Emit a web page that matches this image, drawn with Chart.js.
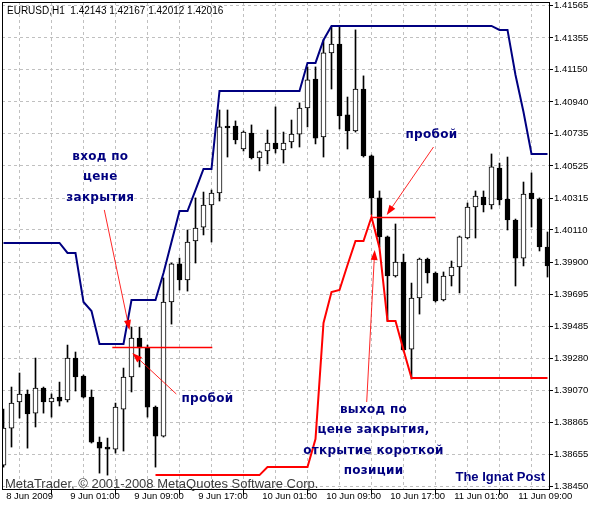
<!DOCTYPE html>
<html>
<head>
<meta charset="utf-8">
<script src="https://cdn.jsdelivr.net/npm/chart.js@4.4.0/dist/chart.umd.min.js"></script>
<style>
html, body { margin: 0; padding: 0; background: #fff; }
</style>
</head>
<body>
<canvas id="chart" width="589" height="506"></canvas>
<script>
// EURUSD H1, bars from 8 Jun 2009 17:00 to 11 Jun 2009 13:00
const opens = [1.38586, 1.38826, 1.38995, 1.39047, 1.38923, 1.39086, 1.38995, 1.39027, 1.39008, 1.39280,
  1.39163, 1.39027, 1.38735, 1.38703, 1.38690, 1.38949, 1.39157, 1.39410, 1.39345, 1.38962,
  1.38774, 1.39643, 1.39890, 1.39786, 1.40039, 1.40129, 1.40272, 1.40350, 1.40784, 1.40784,
  1.40635, 1.40739, 1.40577, 1.40622, 1.40674, 1.40629, 1.40681, 1.40732, 1.40901, 1.41089,
  1.40713, 1.41258, 1.41316, 1.40856, 1.40752, 1.41024, 1.40590, 1.40318, 1.40065, 1.39812,
  1.39902, 1.39338, 1.39669, 1.39922, 1.39831, 1.39656, 1.39812, 1.39870, 1.40058, 1.40259,
  1.40324, 1.40272, 1.40512, 1.40311, 1.40175, 1.39928, 1.40350, 1.40311, 1.40000];
const highs = [1.38949, 1.39092, 1.39183, 1.39073, 1.39280, 1.39092, 1.39047, 1.39124, 1.39364, 1.39319,
  1.39170, 1.39073, 1.38768, 1.38761, 1.38988, 1.39215, 1.39481, 1.39481, 1.39364, 1.38969,
  1.39799, 1.39896, 1.39928, 1.40110, 1.40318, 1.40356, 1.40369, 1.40888, 1.40888, 1.40817,
  1.40752, 1.40791, 1.40622, 1.40758, 1.40908, 1.40745, 1.40823, 1.40934, 1.41167, 1.41167,
  1.41342, 1.41426, 1.41426, 1.40972, 1.41407, 1.41109, 1.40596, 1.40363, 1.40071, 1.40149,
  1.39954, 1.39766, 1.39928, 1.39928, 1.39838, 1.39838, 1.39909, 1.40071, 1.40285, 1.40363,
  1.40363, 1.40603, 1.40544, 1.40583, 1.40181, 1.40421, 1.40480, 1.40318, 1.40097];
const lows = [1.38573, 1.38703, 1.38891, 1.38696, 1.38833, 1.38923, 1.38897, 1.38969, 1.38995, 1.39066,
  1.39021, 1.38729, 1.38534, 1.38521, 1.38664, 1.38677, 1.39060, 1.39222, 1.38897, 1.38573,
  1.38768, 1.39500, 1.39721, 1.39714, 1.39896, 1.40078, 1.40032, 1.40298, 1.40583, 1.40668,
  1.40622, 1.40570, 1.40493, 1.40538, 1.40609, 1.40544, 1.40642, 1.40648, 1.40778, 1.40668,
  1.40583, 1.41024, 1.40765, 1.40635, 1.40745, 1.40583, 1.40207, 1.40000, 1.39520, 1.39805,
  1.39325, 1.39144, 1.39565, 1.39766, 1.39643, 1.39650, 1.39747, 1.39702, 1.40052, 1.40058,
  1.40227, 1.40246, 1.40272, 1.40110, 1.39747, 1.39877, 1.40129, 1.39974, 1.39805];
const closes = [1.38826, 1.38988, 1.39047, 1.38917, 1.39086, 1.38995, 1.39021, 1.39001, 1.39280, 1.39157,
  1.39027, 1.38735, 1.38696, 1.38690, 1.38962, 1.39157, 1.39410, 1.39345, 1.38962, 1.38774,
  1.39643, 1.39890, 1.39786, 1.40032, 1.40123, 1.40272, 1.40350, 1.40778, 1.40771, 1.40694,
  1.40745, 1.40577, 1.40616, 1.40674, 1.40635, 1.40674, 1.40732, 1.40901, 1.41083, 1.40706,
  1.41258, 1.41316, 1.40849, 1.40752, 1.41024, 1.40590, 1.40318, 1.40065, 1.39812, 1.39902,
  1.39332, 1.39669, 1.39922, 1.39831, 1.39650, 1.39812, 1.39870, 1.40065, 1.40259, 1.40330,
  1.40272, 1.40519, 1.40305, 1.40175, 1.39928, 1.40343, 1.40311, 1.40000, 1.39877];

// channel lines (upper = navy, lower = red)
const upperBand = [1.40026, 1.40026, 1.40026, 1.40026, 1.40026, 1.40026, 1.40026, 1.40026, 1.39961, 1.39961,
  1.39643, 1.39585, 1.39371, 1.39371, 1.39371, 1.39371, 1.39656, 1.39656, 1.39656, 1.39656,
  1.39831, 1.40032, 1.40233, 1.40233, 1.40369, 1.40506, 1.40506, 1.41011, 1.41011, 1.41011,
  1.41011, 1.41011, 1.41011, 1.41011, 1.41011, 1.41011, 1.41011, 1.41011, 1.41193, 1.41193,
  1.41342, 1.41433, 1.41433, 1.41433, 1.41433, 1.41433, 1.41433, 1.41433, 1.41433, 1.41433,
  1.41433, 1.41433, 1.41433, 1.41433, 1.41433, 1.41433, 1.41433, 1.41433, 1.41433, 1.41433,
  1.41433, 1.41433, 1.41407, 1.41407, 1.41115, 1.40875, 1.40603, 1.40603, 1.40603];
const lowerBand = [null, null, null, null, null, null, null, null, null, null,
  null, null, null, null, null, null, null, null, null, 1.38521,
  1.38521, 1.38521, 1.38521, 1.38521, 1.38521, 1.38521, 1.38521, 1.38521, 1.38521, 1.38521,
  1.38521, 1.38521, 1.38521, 1.38573, 1.38573, 1.38573, 1.38573, 1.38573, 1.38573, 1.38755,
  1.39507, 1.39708, 1.39721, 1.39883, 1.40039, 1.40039, 1.40194, 1.39993, 1.39520, 1.39520,
  1.39332, 1.39150, 1.39150, 1.39150, 1.39150, 1.39150, 1.39150, 1.39150, 1.39150, 1.39150,
  1.39150, 1.39150, 1.39150, 1.39150, 1.39150, 1.39150, 1.39150, 1.39150, 1.39150];

const timeLabels = ['8 Jun 2009', '9 Jun 01:00', '9 Jun 09:00', '9 Jun 17:00', '10 Jun 01:00',
  '10 Jun 09:00', '10 Jun 17:00', '11 Jun 01:00', '11 Jun 09:00'];
const priceTicks = [1.41565, 1.41355, 1.41150, 1.40940, 1.40735, 1.40525, 1.40315, 1.40110,
  1.39900, 1.39695, 1.39485, 1.39280, 1.39070, 1.38865, 1.38655, 1.38450];

// annotations, in bar index / price
const levelLines = [
  { from: 13.6, to: 26.1, price: 1.39351 },
  { from: 46.1, to: 54.0, price: 1.40194 }
];
const arrows = [
  { x1: 12.6, p1: 1.40240, x2: 15.75, p2: 1.39462 },
  { x1: 21.6, p1: 1.39047, x2: 16.1, p2: 1.39312 },
  { x1: 53.75, p1: 1.40648, x2: 47.9, p2: 1.40207 },
  { x1: 45.4, p1: 1.38995, x2: 46.4, p2: 1.39980 }
];
const notes = [
  { bar: 12.1, price: 1.40583, lines: ['вход по', 'цене', 'закрытия'] },
  { bar: 25.5, price: 1.39014, lines: ['пробой'] },
  { bar: 53.5, price: 1.40726, lines: ['пробой'] },
  { bar: 46.25, price: 1.38943, lines: ['выход по', 'цене закрытия,', 'открытие короткой', 'позиции'] }
];

const axisFont = { family: "'Liberation Sans', Arial, sans-serif", size: 9.5 };
const bars = opens.map((_, i) => i);
const gridBars = [];
for (let b = 0; b <= 68; b += 4) gridBars.push(b);

const drawArrow = (ctx, x1, y1, x2, y2) => {
    const a = Math.atan2(y2 - y1, x2 - x1);
    const L = 10, W = 3.5;
    const bx = x2 - L * Math.cos(a), by = y2 - L * Math.sin(a);
    ctx.beginPath();
    ctx.moveTo(x1, y1);
    ctx.lineTo(bx, by);
    ctx.stroke();
    ctx.beginPath();
    ctx.moveTo(x2, y2);
    ctx.lineTo(bx + W * Math.sin(a), by - W * Math.cos(a));
    ctx.lineTo(bx - W * Math.sin(a), by + W * Math.cos(a));
    ctx.closePath();
    ctx.fill();
};

const overlay = {
    id: 'overlay',
    afterDatasetsDraw(chart) {
        const { ctx, scales: { x, y } } = chart;
        ctx.save();
        ctx.setLineDash([]);
        ctx.strokeStyle = '#ff0000';
        ctx.lineWidth = 1.5;
        levelLines.forEach(l => {
            const yy = Math.round(y.getPixelForValue(l.price)) + 0.5;
            ctx.beginPath();
            ctx.moveTo(x.getPixelForValue(l.from), yy);
            ctx.lineTo(x.getPixelForValue(l.to), yy);
            ctx.stroke();
        });
        ctx.strokeStyle = 'rgba(255,0,0,0.85)';
        ctx.fillStyle = '#ff0000';
        ctx.lineWidth = 1;
        arrows.forEach(a => drawArrow(ctx,
            x.getPixelForValue(a.x1), y.getPixelForValue(a.p1),
            x.getPixelForValue(a.x2), y.getPixelForValue(a.p2)));

        ctx.fillStyle = '#000080';
        ctx.font = 'bold 12px "DejaVu Sans"';
        ctx.letterSpacing = '0.3px';
        ctx.textAlign = 'center';
        ctx.textBaseline = 'middle';
        notes.forEach(n => {
            const cx = x.getPixelForValue(n.bar), cy = y.getPixelForValue(n.price);
            n.lines.forEach((t, k) => ctx.fillText(t, cx, cy + k * 20.3));
        });
        ctx.restore();
    },
    afterDraw(chart) {
        const { ctx, chartArea: a } = chart;
        ctx.save();
        ctx.strokeStyle = '#000';
        ctx.lineWidth = 1;
        ctx.strokeRect(a.left + 0.5, a.top + 0.5, a.right - a.left, a.bottom - a.top);

        ctx.fillStyle = '#000';
        ctx.font = "10px 'Liberation Sans', Arial, sans-serif";
        ctx.textAlign = 'left';
        ctx.textBaseline = 'middle';
        ctx.fillText('EURUSD,H1  1.42143 1.42167 1.42012 1.42016', a.left + 5, a.top + 9);

        ctx.fillStyle = '#3c3c3c';
        ctx.font = "13px 'Liberation Sans', sans-serif";
        ctx.textBaseline = 'alphabetic';
        ctx.fillText('MetaTrader, \u00a9 2001-2008 MetaQuotes Software Corp.', a.left + 3, a.bottom - 1);

        ctx.fillStyle = '#000080';
        ctx.font = "bold 13px 'Liberation Sans', sans-serif";
        ctx.textAlign = 'right';
        ctx.fillText('The Ignat Post', a.right - 4, a.bottom - 8);
        ctx.restore();
    }
};

new Chart(document.getElementById('chart'), {
    type: 'bar',
    data: {
        datasets: [
            {
                type: 'line',
                data: bars.map(i => ({ x: i, y: upperBand[i] })),
                borderColor: '#000080',
                borderWidth: 2,
                pointRadius: 0,
                order: 0
            },
            {
                type: 'line',
                data: bars.map(i => ({ x: i, y: lowerBand[i] })),
                borderColor: '#ff0000',
                borderWidth: 2,
                pointRadius: 0,
                spanGaps: false,
                order: 0
            },
            {
                type: 'bar',
                data: bars.map(i => ({ x: i, y: [opens[i], closes[i]] })),
                backgroundColor: bars.map(i => closes[i] >= opens[i] ? '#ffffff' : '#000000'),
                borderColor: '#000',
                borderWidth: 1,
                borderSkipped: false,
                grouped: false,
                barThickness: 5,
                maxBarThickness: 5,
                order: 1
            },
            {
                type: 'bar',
                data: bars.map(i => ({ x: i, y: [lows[i], highs[i]] })),
                backgroundColor: '#000',
                borderWidth: 0,
                grouped: false,
                barThickness: 1,
                maxBarThickness: 1,
                order: 2
            }
        ]
    },
    options: {
        responsive: false,
        animation: false,
        devicePixelRatio: 1,
        layout: { padding: { left: 2, top: 2, right: 0, bottom: 0 } },
        plugins: { legend: { display: false }, tooltip: { enabled: false } },
        scales: {
            x: {
                type: 'linear',
                min: -0.1875,
                max: 68.1875,
                offset: false,
                afterBuildTicks: s => { s.ticks = gridBars.map(v => ({ value: v })); },
                afterFit: s => { s.height = 17; s.paddingLeft = 0; s.paddingRight = 0; },
                ticks: {
                    autoSkip: false,
                    maxRotation: 0,
                    minRotation: 0,
                    align: 'start',
                    padding: -4,
                    color: '#000',
                    font: axisFont,
                    callback: v => (v % 8 === 0 ? ' ' + timeLabels[v / 8] : '')
                },
                grid: {
                    color: '#c0c0c0',
                    tickLength: 6,
                    tickColor: c => (c.tick && c.tick.value % 8 === 0 ? '#000' : 'rgba(0,0,0,0)')
                },
                border: { display: false, dash: [3, 3] }
            },
            y: {
                position: 'right',
                min: 1.38431,
                max: 1.41588,
                afterBuildTicks: s => { s.ticks = priceTicks.map(v => ({ value: v })); },
                afterFit: s => { s.width = 40; s.paddingTop = 0; s.paddingBottom = 0; },
                ticks: {
                    padding: 1,
                    color: '#000',
                    font: axisFont,
                    callback: v => v.toFixed(5)
                },
                grid: { color: '#c0c0c0', tickLength: 4, tickColor: '#000' },
                border: { display: false, dash: [3, 3] }
            }
        }
    },
    plugins: [overlay]
});
</script>
</body>
</html>
